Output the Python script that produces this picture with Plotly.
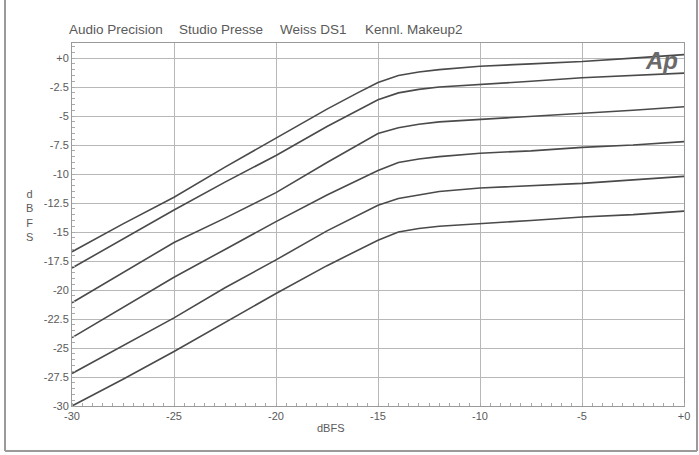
import plotly.graph_objects as go

# Input level (dBFS)
x_in = [-30, -27.5, -25, -22.5, -20, -17.5, -16, -15, -14, -13, -12, -10, -7.5, -5, -2.5, 0]

# Output level curves (dBFS), top to bottom
curve1 = [-16.7, -14.3, -12.0, -9.4, -6.9, -4.4, -3.0, -2.1, -1.5, -1.2, -1.0, -0.7, -0.5, -0.3, 0.0, 0.3]
curve2 = [-18.1, -15.6, -13.1, -10.7, -8.4, -5.9, -4.5, -3.6, -3.0, -2.7, -2.5, -2.3, -2.0, -1.7, -1.5, -1.3]
curve3 = [-21.1, -18.5, -15.9, -13.8, -11.6, -9.0, -7.5, -6.5, -6.0, -5.7, -5.5, -5.3, -5.0, -4.8, -4.5, -4.2]
curve4 = [-24.1, -21.5, -18.9, -16.5, -14.1, -11.8, -10.5, -9.7, -9.0, -8.7, -8.5, -8.2, -8.0, -7.7, -7.5, -7.2]
curve5 = [-27.2, -24.8, -22.4, -19.8, -17.4, -14.9, -13.6, -12.7, -12.1, -11.8, -11.5, -11.2, -11.0, -10.8, -10.5, -10.2]
curve6 = [-30.0, -27.7, -25.3, -22.8, -20.3, -17.9, -16.6, -15.7, -15.0, -14.7, -14.5, -14.3, -14.0, -13.7, -13.5, -13.2]
curves = [curve1, curve2, curve3, curve4, curve5, curve6]

x_tickvals = [-30, -25, -20, -15, -10, -5, 0]
x_ticktext = ["-30", "-25", "-20", "-15", "-10", "-5", "+0"]
y_tickvals = [0, -2.5, -5, -7.5, -10, -12.5, -15, -17.5, -20, -22.5, -25, -27.5, -30]
y_ticktext = ["+0", "-2.5", "-5", "-7.5", "-10", "-12.5", "-15", "-17.5", "-20", "-22.5", "-25", "-27.5", "-30"]

title_parts = ["Audio Precision", "Studio Presse", "Weiss DS1", "Kennl. Makeup2"]
title_px = [67, 177, 278, 363]

fig = go.Figure()
for c in curves:
    fig.add_trace(go.Scatter(x=x_in, y=c, mode="lines",
                             line=dict(color="#4a4a4a", width=1.6), showlegend=False,
                             hoverinfo="skip"))

L, R, T, B = 72, 15, 43, 49
W, H = 699, 455
pw, ph = W - L - R, H - T - B

def px2x(px):
    return (px - L) / pw

def py2y(py):
    return (H - B - py) / ph

fig.update_layout(
    width=W, height=H,
    margin=dict(l=L, r=R, t=T, b=B, autoexpand=False),
    paper_bgcolor="white", plot_bgcolor="white",
    font=dict(family="Liberation Sans, Arial, sans-serif", color="#5a5a5a", size=11),
    showlegend=False,
)
fig.update_xaxes(
    range=[-30, 0], tickvals=x_tickvals, ticktext=x_ticktext,
    showgrid=True, gridcolor="#b8b8b8", gridwidth=1,
    showline=True, linecolor="#9a9a9a", linewidth=1, mirror=True,
    ticks="", zeroline=False,
    minor=dict(dtick=0.5, ticks="inside", ticklen=3, tickcolor="#aaaaaa", showgrid=False),
    tickfont=dict(size=11, color="#5a5a5a"),
)
fig.update_yaxes(
    range=[-30, 1.3], tickvals=y_tickvals, ticktext=y_ticktext,
    showgrid=True, gridcolor="#b8b8b8", gridwidth=1,
    showline=True, linecolor="#9a9a9a", linewidth=1, mirror=True,
    ticks="", zeroline=False,
    minor=dict(dtick=0.5, ticks="inside", ticklen=3, tickcolor="#aaaaaa", showgrid=False),
    tickfont=dict(size=11, color="#5a5a5a"),
)

annotations = []
for txt, px in zip(title_parts, title_px):
    annotations.append(dict(text=txt, x=px2x(px), y=py2y(30), xref="paper", yref="paper",
                            xanchor="left", yanchor="middle", showarrow=False,
                            font=dict(size=13.5, color="#5a5a5a")))
annotations.append(dict(text="dBFS", x=px2x(331), y=py2y(428), xref="paper", yref="paper",
                        xanchor="center", yanchor="middle", showarrow=False,
                        font=dict(size=11, color="#5a5a5a")))
annotations.append(dict(text="d<br>B<br>F<br>S", x=px2x(30), y=py2y(215), xref="paper", yref="paper",
                        xanchor="center", yanchor="middle", showarrow=False,
                        font=dict(size=11, color="#5a5a5a")))
annotations.append(dict(text="<b><i>Ap</i></b>", x=px2x(680), y=py2y(60), xref="paper", yref="paper",
                        xanchor="right", yanchor="middle", showarrow=False,
                        font=dict(size=24, color="#6a6a6a", family="Liberation Sans, Arial")))
fig.update_layout(annotations=annotations)

# outer frame of the scanned page
frame = dict(color="#9a9a9a", width=2)
fig.add_shape(type="line", xref="paper", yref="paper", x0=px2x(5), x1=px2x(5), y0=py2y(0), y1=py2y(451), line=frame)
fig.add_shape(type="line", xref="paper", yref="paper", x0=px2x(5), x1=px2x(697), y0=py2y(451), y1=py2y(451), line=frame)
fig.add_shape(type="line", xref="paper", yref="paper", x0=px2x(697), x1=px2x(697), y0=py2y(0), y1=py2y(451), line=frame)

fig.write_html("out.html", config={"displayModeBar": False},
               post_script="document.body.style.margin='0';document.body.style.overflow='hidden';")
